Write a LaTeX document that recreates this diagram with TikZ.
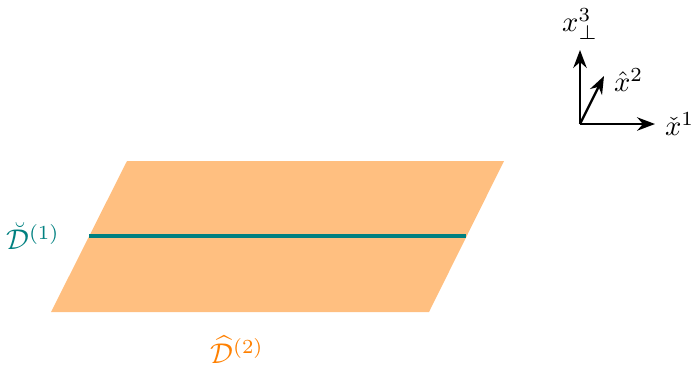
\documentclass[tikz,border=0pt]{standalone}
\usepackage{amsmath,amssymb}
\usepackage{xcolor}
\usetikzlibrary{arrows.meta}
\tikzset{
  sheet/.style={fill=orange!50,draw=none},
  brane/.style={teal,line width=1.5pt},
  ax/.style={thick,-{Stealth[length=2.2mm]}}
}

\begin{document}
\begin{tikzpicture}[x=0.35pt,y=-0.35pt]
\useasboundingbox (0,0) rectangle (692,370);
\fill[sheet] (51,312) -- (429,312) -- (504,161) -- (127,161) -- cycle;
\draw[brane] (89,236) -- (466,236);
\node[teal] (d1) at (33,236) {$\breve{\mathcal{D}}^{(1)}$};
\node[orange] (d2) at (237,350) {$\widehat{\mathcal{D}}^{(2)}$};
% axes
\coordinate (o) at (580,124);
\coordinate (e1) at (655,124);
\coordinate (e2) at (604,76);
\coordinate (e3) at (580,50);
\draw[ax] (o) -- (e1); \node[right] (l1) at (e1) {$\check{x}^1$};
\draw[ax] (o) -- (e2); \node[right] (l2) at (604,80) {$\hat{x}^2$};
\draw[ax] (o) -- (e3); \node[above] (l3) at (e3) {$x^3_\perp$};
\end{tikzpicture}
\end{document}
